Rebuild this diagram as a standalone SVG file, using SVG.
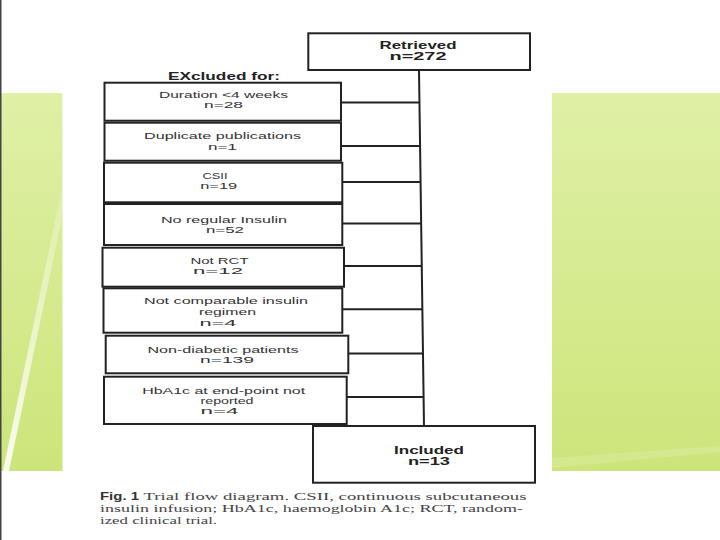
<svg xmlns="http://www.w3.org/2000/svg" width="720" height="540" viewBox="0 0 720 540">
<defs>
<linearGradient id="g" x1="0" y1="0" x2="0" y2="1">
<stop offset="0" stop-color="#dff0a6"/>
<stop offset="1" stop-color="#cce57a"/>
</linearGradient>
<linearGradient id="s" x1="0" y1="1" x2="0" y2="0">
<stop offset="0" stop-color="#ffffff" stop-opacity="0.9"/>
<stop offset="1" stop-color="#ffffff" stop-opacity="0.15"/>
</linearGradient>
</defs>
<style>
.box{fill:#fff;stroke:#222;stroke-width:2}
.t{font-family:"Liberation Sans",Arial,sans-serif;font-size:9.5px;fill:#333;text-anchor:middle}
.b{font-family:"Liberation Sans",Arial,sans-serif;font-size:10px;font-weight:bold;fill:#222;text-anchor:middle}
.c{font-family:"Liberation Serif","Times New Roman",serif;font-size:11px;fill:#444}
.line{stroke:#222;stroke-width:2;fill:none}
</style>
<rect width="720" height="540" fill="#fff"/>
<g id="background">
<rect x="0" y="93" width="62.5" height="378" fill="url(#g)"/>
<rect x="552" y="93" width="168" height="378" fill="url(#g)"/>
<polygon points="3,471 9,471 62.5,215 62.5,185" fill="url(#s)"/>
<polygon points="552,458 720,446 720,452 552,468" fill="#ffffff" opacity="0.15"/>
<line x1="0.75" y1="0" x2="0.75" y2="540" stroke="#444" stroke-width="1.5"/>
</g>
<g id="connectors">
<line class="line" x1="419" y1="70" x2="424" y2="426"/>
<line class="line" x1="341" y1="102.4" x2="419.5" y2="102.4"/>
<line class="line" x1="341" y1="145.9" x2="420.1" y2="145.9"/>
<line class="line" x1="342.3" y1="182" x2="420.6" y2="182"/>
<line class="line" x1="342.3" y1="223.4" x2="421.2" y2="223.4"/>
<line class="line" x1="344" y1="265.9" x2="421.8" y2="265.9"/>
<line class="line" x1="342.3" y1="309.3" x2="422.4" y2="309.3"/>
<line class="line" x1="348.3" y1="353.4" x2="423" y2="353.4"/>
<line class="line" x1="346.7" y1="397" x2="423.6" y2="397"/>
</g>
<g id="retrieved">
<rect class="box" x="308.3" y="33.3" width="221.7" height="36.7"/>
<text class="b" x="418" y="48.8" textLength="77" lengthAdjust="spacingAndGlyphs">Retrieved</text>
<text class="b" x="418" y="59.5" textLength="57" lengthAdjust="spacingAndGlyphs">n=272</text>
</g>
<g id="excluded-label">
<text class="b" x="224" y="79.5" textLength="112" lengthAdjust="spacingAndGlyphs">EXcluded for:</text>
</g>
<g id="duration">
<rect class="box" x="104.5" y="82.7" width="236.5" height="38"/>
<text class="t" x="223.5" y="98.3" textLength="129" lengthAdjust="spacingAndGlyphs">Duration &lt;4 weeks</text>
<text class="t" x="223.5" y="108.3" textLength="39" lengthAdjust="spacingAndGlyphs">n=28</text>
</g>
<g id="duplicate">
<rect class="box" x="104.5" y="122.7" width="236.5" height="38"/>
<text class="t" x="222.5" y="139.3" textLength="157" lengthAdjust="spacingAndGlyphs">Duplicate publications</text>
<text class="t" x="222.5" y="149.8" textLength="29" lengthAdjust="spacingAndGlyphs">n=1</text>
</g>
<g id="csii">
<rect class="box" x="104" y="162.7" width="238.3" height="39.6"/>
<text class="t" x="215" y="179" textLength="25" lengthAdjust="spacingAndGlyphs">CSII</text>
<text class="t" x="218.7" y="189.3" textLength="37" lengthAdjust="spacingAndGlyphs">n=19</text>
</g>
<g id="no-regular">
<rect class="box" x="104" y="204" width="238.3" height="41"/>
<text class="t" x="224" y="222.6" textLength="126" lengthAdjust="spacingAndGlyphs">No regular Insulin</text>
<text class="t" x="225" y="233.3" textLength="38" lengthAdjust="spacingAndGlyphs">n=52</text>
</g>
<g id="not-rct">
<rect class="box" x="102.5" y="247.7" width="241.5" height="39"/>
<text class="t" x="219.5" y="264" textLength="58" lengthAdjust="spacingAndGlyphs">Not RCT</text>
<text class="t" x="218" y="274.3" textLength="50" lengthAdjust="spacingAndGlyphs">n=12</text>
</g>
<g id="not-comparable">
<rect class="box" x="103.5" y="288.3" width="238.8" height="44.4"/>
<text class="t" x="226" y="304.3" textLength="164" lengthAdjust="spacingAndGlyphs">Not comparable insulin</text>
<text class="t" x="227.5" y="315" textLength="57" lengthAdjust="spacingAndGlyphs">regimen</text>
<text class="t" x="218" y="326" textLength="37" lengthAdjust="spacingAndGlyphs">n=4</text>
</g>
<g id="non-diabetic">
<rect class="box" x="105.7" y="335.7" width="242.6" height="37.6"/>
<text class="t" x="223" y="353.3" textLength="151" lengthAdjust="spacingAndGlyphs">Non-diabetic patients</text>
<text class="t" x="227" y="363.3" textLength="54" lengthAdjust="spacingAndGlyphs">n=139</text>
</g>
<g id="hba1c">
<rect class="box" x="104" y="376.7" width="242.7" height="47.3"/>
<text class="t" x="223.7" y="394.3" textLength="163" lengthAdjust="spacingAndGlyphs">HbA1c at end-point not</text>
<text class="t" x="227" y="404.3" textLength="53" lengthAdjust="spacingAndGlyphs">reported</text>
<text class="t" x="219.5" y="414.3" textLength="38" lengthAdjust="spacingAndGlyphs">n=4</text>
</g>
<g id="included">
<rect class="box" x="313" y="426" width="222" height="56.7"/>
<text class="b" x="429" y="453.8" textLength="70" lengthAdjust="spacingAndGlyphs">Included</text>
<text class="b" x="429" y="464.5" textLength="42" lengthAdjust="spacingAndGlyphs">n=13</text>
</g>
<g id="caption">
<text x="100" y="499.5" font-family="Liberation Sans,Arial,sans-serif" font-size="10" font-weight="bold" fill="#333" textLength="39" lengthAdjust="spacingAndGlyphs">Fig. 1</text>
<text class="c" x="143.5" y="499.5" textLength="383" lengthAdjust="spacingAndGlyphs">Trial flow diagram. CSII, continuous subcutaneous</text>
<text class="c" x="100" y="511.5" textLength="423" lengthAdjust="spacingAndGlyphs">insulin infusion; HbA1c, haemoglobin A1c; RCT, random-</text>
<text class="c" x="100" y="523.5" textLength="117" lengthAdjust="spacingAndGlyphs">ized clinical trial.</text>
</g>
</svg>
